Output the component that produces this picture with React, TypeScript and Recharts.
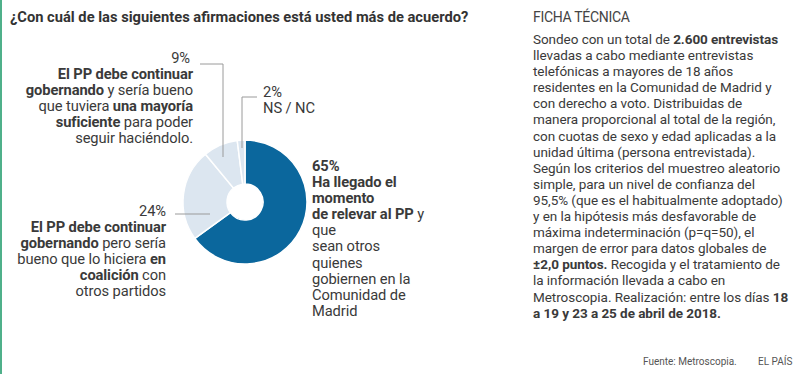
import React from "react";
import { PieChart, Pie, Cell } from "recharts";

// Encuesta Metroscopia — Comunidad de Madrid, abril 2018
const opciones = ["relevar", "coalicion", "mayoria", "nsnc"];
const porcentajes = [65, 24, 9, 2];
const colores = ["#0b679d", "#dce6f0", "#dce6f0", "#dce6f0"];

const titulo = "¿Con cuál de las siguientes afirmaciones está usted más de acuerdo?";

const FONT = "Roboto, 'Noto Sans', sans-serif";
const TEXT = "#3a3a3a";
const LINE = "#9a9a9a";

// leader lines, relative to the pie centre (dx, dy)
const guias: Record<string, [number, number][]> = {
  mayoria: [[-45, -138], [-22, -138], [-22, -45]],
  nsnc: [[-3, -54], [-3, -105], [12, -105]],
  coalicion: [[-70, 12], [-35, 12]],
};

const B = ({ children }: { children: React.ReactNode }) => (
  <b style={{ fontWeight: 700 }}>{children}</b>
);

function renderGuide(props: any) {
  const { cx, cy, index } = props;
  const pts = guias[opciones[index]];
  if (!pts) return null;
  return (
    <polyline
      key={index}
      points={pts.map(([dx, dy]) => `${cx + dx},${cy + dy}`).join(" ")}
      fill="none"
      stroke={LINE}
      strokeWidth={1}
    />
  );
}

const fichaLineas: React.ReactNode[] = [
  <>Sondeo con un total de <B>2.600 entrevistas</B></>,
  "llevadas a cabo mediante entrevistas",
  "telefónicas a mayores de 18 años",
  "residentes en la Comunidad de Madrid y",
  "con derecho a voto. Distribuidas de",
  "manera proporcional al total de la región,",
  "con cuotas de sexo y edad aplicadas a la",
  "unidad última (persona entrevistada).",
  "Según los criterios del muestreo aleatorio",
  "simple, para un nivel de confianza del",
  "95,5% (que es el habitualmente adoptado)",
  "y en la hipótesis más desfavorable de",
  "máxima indeterminación (p=q=50), el",
  "margen de error para datos globales de",
  <><B>±2,0 puntos.</B> Recogida y el tratamiento de</>,
  "la información llevada a cabo en",
  <>Metroscopia. Realización: entre los días <B>18</B></>,
  <B>a 19 y 23 a 25 de abril de 2018.</B>,
];

export default function App() {
  const data = opciones.map((name, i) => ({ name, value: porcentajes[i] }));

  const block = (style: React.CSSProperties): React.CSSProperties => ({
    position: "absolute",
    fontFamily: FONT,
    fontSize: 14.7,
    lineHeight: "16.1px",
    color: TEXT,
    whiteSpace: "nowrap",
    letterSpacing: -0.1,
    ...style,
  });

  return (
    <div
      style={{
        position: "fixed",
        left: 0,
        top: 0,
        width: 798,
        height: 374,
        background: "#fff",
        overflow: "hidden",
        fontFamily: FONT,
      }}
    >
      <div style={{ position: "absolute", left: 0, top: 0, width: 2, height: 374, background: "#4fb08a" }} />

      <div style={block({ left: 10, top: 9, fontSize: 14.7, fontWeight: 700, color: "#333", letterSpacing: 0 })}>
        {titulo}
      </div>

      <div style={{ position: "absolute", left: 0, top: 0 }}>
        <PieChart width={500} height={374}>
          <Pie
            data={data}
            dataKey="value"
            nameKey="name"
            cx={240}
            cy={197}
            innerRadius={18}
            outerRadius={62}
            startAngle={90}
            endAngle={-270}
            stroke="#fff"
            strokeWidth={1.5}
            label={renderGuide}
            labelLine={false}
            isAnimationActive={false}
          >
            {data.map((d, i) => (
              <Cell key={d.name} fill={colores[i]} />
            ))}
          </Pie>
        </PieChart>
      </div>

      {/* 9% */}
      <div style={block({ right: 798 - 193, top: 50, textAlign: "right" })}>
        <div style={{ marginRight: 3 }}>{porcentajes[2]}%</div>
        <B>El PP debe continuar</B>
        <br />
        <B>gobernando</B> y sería bueno
        <br />
        que tuviera <B>una mayoría</B>
        <br />
        <B>suficiente</B> para poder
        <br />
        seguir haciéndolo.
      </div>

      {/* 2% */}
      <div style={block({ left: 263, top: 84 })}>
        {porcentajes[3]}%
        <br />
        NS / NC
      </div>

      {/* 24% */}
      <div style={block({ right: 798 - 166, top: 203, textAlign: "right" })}>
        {porcentajes[1]}%
        <br />
        <B>El PP debe continuar</B>
        <br />
        <B>gobernando</B> pero sería
        <br />
        bueno que lo hiciera <B>en</B>
        <br />
        <B>coalición</B> con
        <br />
        otros partidos
      </div>

      {/* 65% */}
      <div style={block({ left: 312, top: 158 })}>
        <B>{porcentajes[0]}%</B>
        <br />
        <B>Ha llegado el</B>
        <br />
        <B>momento</B>
        <br />
        <B>de relevar al PP</B> y
        <br />
        que
        <br />
        sean otros
        <br />
        quienes
        <br />
        gobiernen en la
        <br />
        Comunidad de
        <br />
        Madrid
      </div>

      {/* Ficha técnica */}
      <div style={block({ left: 533, top: 9, fontSize: 14, color: "#444", letterSpacing: -0.3 })}>FICHA TÉCNICA</div>
      <div style={block({ left: 533, top: 31, fontSize: 13.5, letterSpacing: -0.05 })}>
        {fichaLineas.map((l, i) => (
          <div key={i}>{l}</div>
        ))}
      </div>

      <div style={block({ left: 643, top: 355, fontSize: 10, lineHeight: "14px", color: "#555", letterSpacing: 0 })}>
        Fuente: Metroscopia.
      </div>
      <div style={block({ left: 758, top: 355, fontSize: 10, lineHeight: "14px", color: "#555", letterSpacing: 0 })}>
        EL PAÍS
      </div>
    </div>
  );
}
